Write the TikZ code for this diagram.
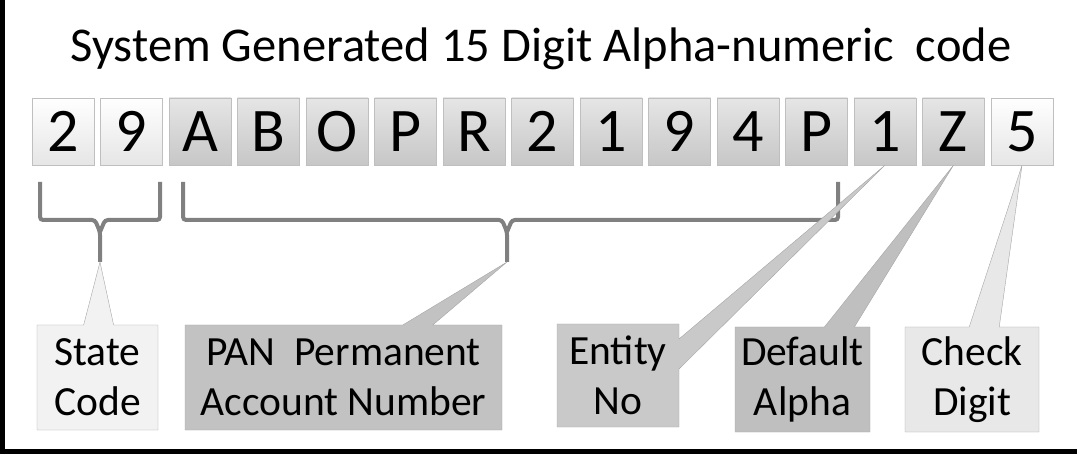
\documentclass[tikz,border=0pt]{standalone}
\usepackage{fontspec}
\setmainfont{Carlito}
\usetikzlibrary{shapes.callouts}

\tikzset{
  digitbox/.style={draw=black!25, minimum width=62pt, minimum height=67pt, inner sep=0pt,
    font=\fontsize{62}{64}\selectfont, text=black},
  litebox/.style={digitbox, top color=white, bottom color=black!10},
  darkbox/.style={digitbox, top color=black!10, bottom color=black!22},
  labelbox/.style={rectangle callout, draw=black!35, callout pointer width=30pt, inner sep=0pt,
    align=center, font=\fontsize{41.5}{50}\selectfont, text=black},
  bracket/.style={draw=black!50, line width=4pt, rounded corners=3pt}
}

\begin{document}
\begin{tikzpicture}[x=1pt,y=-1pt]
 \useasboundingbox (0,0) rectangle (1077,454);
 % ramme
 \draw[line width=5pt] (2.5,0) -- (2.5,451.5) -- (1077,451.5);
 % overskrift
 \node[anchor=base, font=\fontsize{48.5}{52}\selectfont, text=black] (title) at (541,62)
   {System Generated 15 Digit Alpha-numeric\ \ code};
 % de 15 tegn
 \foreach \ch/\sty [count=\i] in {2/litebox,9/litebox,A/darkbox,B/darkbox,O/darkbox,P/darkbox,
   R/darkbox,2/darkbox,1/darkbox,9/darkbox,4/darkbox,P/darkbox,1/darkbox,Z/darkbox,5/litebox}
 {
   \pgfmathsetmacro\xc{63+(\i-1)*68.5}
   \node[\sty] (d\i) at (\xc,131.5) {\ch};
 }
 % klammer
 \draw[bracket] (40,182) -- (40,220) -- (95,220) -- (100,232) -- (100,262);
 \draw[bracket] (160,182) -- (160,220) -- (105,220) -- (100,232);
 \draw[bracket] (183,182) -- (183,220) -- (502,220) -- (507,232) -- (507,262);
 \draw[bracket] (838,182) -- (838,220) -- (512,220) -- (507,232);
 \coordinate (stip) at (100,262);
 \coordinate (ptip) at (507,262);
 % forklaringer
 \node[labelbox, fill=black!5, minimum width=121pt, minimum height=105pt,
   callout absolute pointer={(stip)}] (state) at (97.5,377.5) {State\\Code};
 \node[labelbox, fill=black!24, minimum width=317pt, minimum height=105pt,
   callout absolute pointer={(ptip)}] (pan) at (343.5,377.5) {PAN\ \ Permanent\\Account Number};
 \node[labelbox, fill=black!21, minimum width=122pt, minimum height=103pt,
   callout absolute pointer={(d13.south)}] (entity) at (618,375.5) {Entity\\No};
 \node[labelbox, fill=black!25, minimum width=135pt, minimum height=105pt,
   callout absolute pointer={(d14.south)}] (default) at (802.5,379.5) {Default\\Alpha};
 \node[labelbox, fill=black!9, minimum width=134pt, minimum height=105pt,
   callout absolute pointer={(d15.south)}] (check) at (972,379.5) {Check\\Digit};
\end{tikzpicture}
\end{document}
